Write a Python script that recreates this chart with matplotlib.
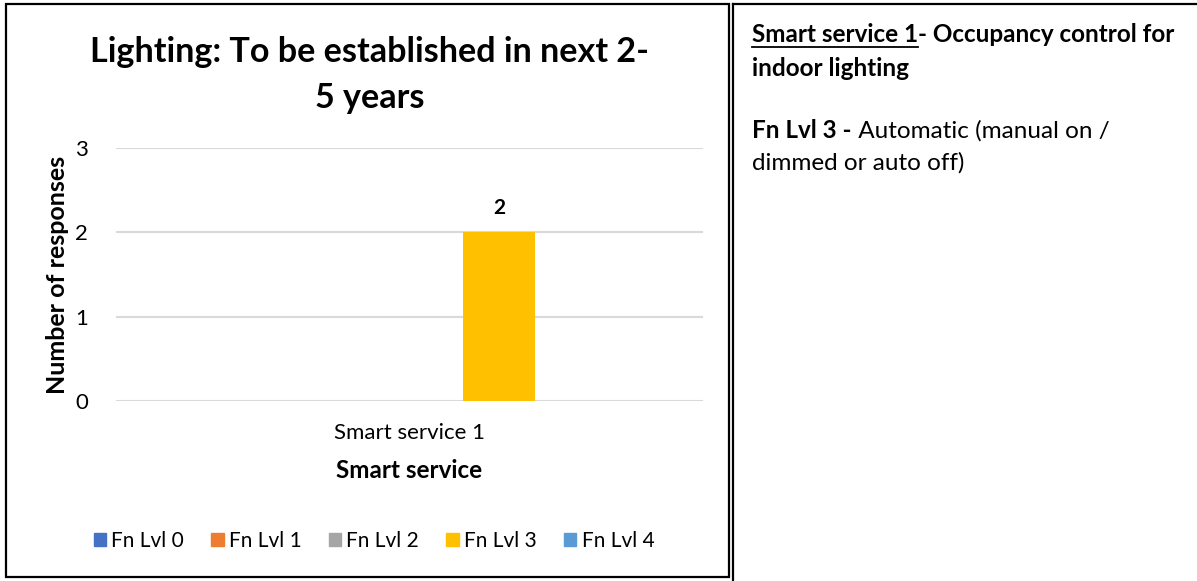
import matplotlib
import matplotlib.pyplot as plt
from matplotlib.lines import Line2D
from matplotlib.patches import Patch, Rectangle
matplotlib.use('Agg')

W, H = 1197, 581

categories = ["Smart service 1"]
series = ["Fn Lvl 0", "Fn Lvl 1", "Fn Lvl 2", "Fn Lvl 3", "Fn Lvl 4"]
values = [0, 0, 0, 2, 0]
colors = ["#4472C4", "#ED7D31", "#A5A5A5", "#FFC000", "#5B9BD5"]
y_ticks = [0, 1, 2, 3]

plt.rcParams['font.family'] = ['Lato', 'DejaVu Sans']


def fx(px):
    return px / W


def fy(py):
    return 1 - py / H


def main():
    fig = plt.figure(figsize=(W / 100, H / 100), dpi=100)
    ax = fig.add_axes([fx(116), fy(401), fx(703) - fx(116), fy(148) - fy(401)])

    spacing = 0.1525
    width = 0.1227
    for i, (name, val) in enumerate(zip(series, values)):
        x = (i - 2) * spacing
        ax.bar(x, val, width=width, color=colors[i], label=name, zorder=3)
        if val > 0:
            ax.annotate(str(val), (x, val), xytext=(0, 10), textcoords="offset points",
                        ha="center", va="bottom", fontsize=15, fontweight="bold")

    ax.set_xlim(-0.5, 0.5)
    ax.set_ylim(0, 3)
    ax.set_yticks(y_ticks)
    ax.set_xticks([0])
    ax.set_xticklabels(categories)
    ax.tick_params(axis="both", length=0, labelsize=16)
    ax.tick_params(axis="y", pad=20)
    ax.tick_params(axis="x", pad=16)
    ax.yaxis.grid(True, color="#D9D9D9", linewidth=1.5, zorder=0)
    for s in ax.spines.values():
        s.set_visible(False)
    ax.set_xlabel("Smart service", fontsize=17.5, fontweight="bold")
    ax.set_ylabel("Number of responses", fontsize=18, fontweight="bold")
    ax.xaxis.set_label_coords(0.5, -0.273)
    ax.xaxis.label.set_va("center")
    ax.yaxis.set_label_coords(-0.099, 0.5)
    ax.yaxis.label.set_va("center")

    fig.text(fx(370), fy(75), "Lighting: To be established in next 2-\n5 years",
             ha="center", va="center", fontsize=24.6, fontweight="bold", linespacing=1.5)

    handles = [Patch(color=c, label=n) for c, n in zip(colors, series)]
    fig.legend(handles=handles, loc="center", bbox_to_anchor=(fx(374), fy(541)),
               ncol=5, frameon=False, fontsize=15, handlelength=0.6, handleheight=0.6,
               handletextpad=0.25, columnspacing=1.3)

    # chart frame and right panel borders
    fig.add_artist(Rectangle((fx(6), fy(577)), fx(729) - fx(6), fy(4) - fy(577),
                             transform=fig.transFigure, fill=False, edgecolor="black", linewidth=1.6))
    fig.add_artist(Line2D([fx(733), fx(733)], [fy(4), 0], transform=fig.transFigure,
                          color="black", linewidth=1.6))
    fig.add_artist(Line2D([fx(733), 1], [fy(4), fy(4)], transform=fig.transFigure,
                          color="black", linewidth=1.6))

    # right panel text, pieces drawn one after another
    renderer = fig.canvas.get_renderer()

    def put_line(x, y, pieces):
        for txt, bold, under in pieces:
            t = fig.text(fx(x), fy(y), txt, ha="left", va="center", fontsize=17.5,
                         fontweight="bold" if bold else "normal")
            bb = t.get_window_extent(renderer)
            if under:
                fig.add_artist(Line2D([bb.x0 / W, bb.x1 / W], [fy(y + 12)] * 2,
                                      transform=fig.transFigure, color="black", linewidth=1.3))
            x = bb.x1

    put_line(752, 35, [("Smart service 1", True, True), ("- Occupancy control for", True, False)])
    put_line(752, 68, [("indoor lighting", True, False)])
    put_line(752, 131, [("Fn Lvl 3 -", True, False), (" Automatic (manual on /", False, False)])
    put_line(752, 163, [("dimmed or auto off)", False, False)])

    fig.savefig("out.png", dpi=100)


if __name__ == "__main__":
    main()
